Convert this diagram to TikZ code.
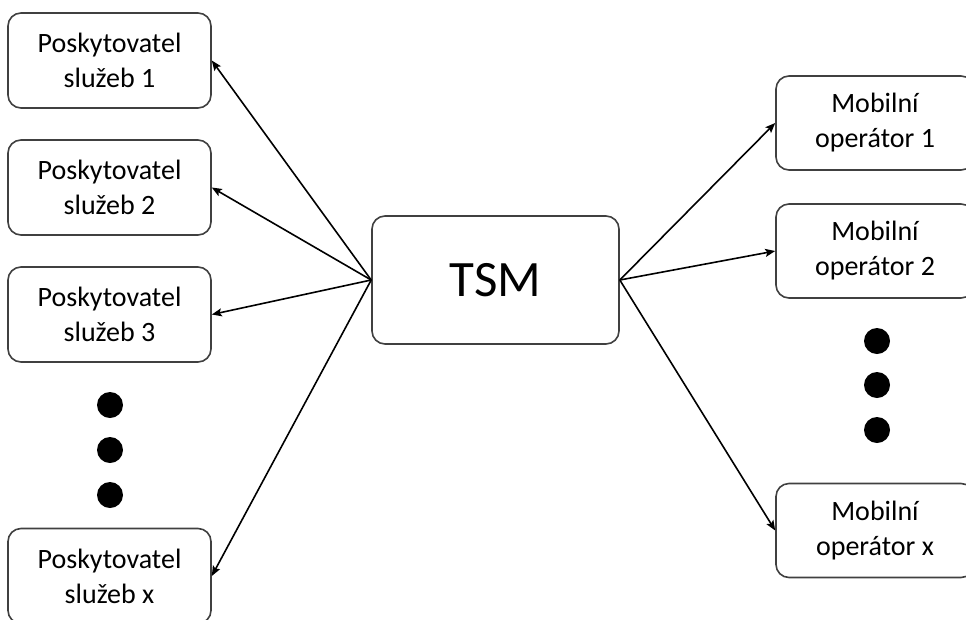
\documentclass[tikz,border=0pt]{standalone}
\usepackage{fontspec}
\setmainfont{Carlito}
\usetikzlibrary{arrows.meta}
\begin{document}
\begin{tikzpicture}[x=1pt,y=-1pt,
  box/.style={draw=black!75,line width=1.6pt,rounded corners=13pt,fill=white,
    align=center,inner sep=0pt,font=\fontsize{28}{35}\selectfont},
  leftbox/.style={box,minimum width=203pt,minimum height=95pt},
  rightbox/.style={box,minimum width=198pt,minimum height=94pt},
  link/.style={line width=1.6pt,-{Stealth[length=10pt,width=8pt,inset=2pt]}},
  dot/.style={circle,fill=black,minimum size=26pt,inner sep=0pt}]
\useasboundingbox (0,0) rectangle (966,619);
% service providers
\node[leftbox] (p1) at (109.5,60.5) {Poskytovatel\\služeb 1};
\node[leftbox] (p2) at (109.5,187.5) {Poskytovatel\\služeb 2};
\node[leftbox] (p3) at (109.5,314.5) {Poskytovatel\\služeb 3};
\node[leftbox] (px) at (109.5,576) {Poskytovatel\\služeb x};
\node[dot] (ld1) at (110,405) {};
\node[dot] (ld2) at (110,450) {};
\node[dot] (ld3) at (110,495) {};
% central manager
\node[box,minimum width=247pt,minimum height=128pt,font=\fontsize{51}{60}\selectfont] (tsm) at (495.5,280) {TSM};
% mobile operators
\node[rightbox] (m1) at (875,123) {Mobilní\\operátor 1};
\node[rightbox] (m2) at (875,251) {Mobilní\\operátor 2};
\node[rightbox] (mx) at (875,530.5) {Mobilní\\operátor x};
\node[dot] (rd1) at (877,341) {};
\node[dot] (rd2) at (877,385) {};
\node[dot] (rd3) at (877,430) {};
% connections
\foreach \t in {p1,p2,p3,px} \draw[link] (tsm.west) -- (\t.east);
\foreach \t in {m1,m2,mx} \draw[link] (tsm.east) -- (\t.west);
\end{tikzpicture}
\end{document}
